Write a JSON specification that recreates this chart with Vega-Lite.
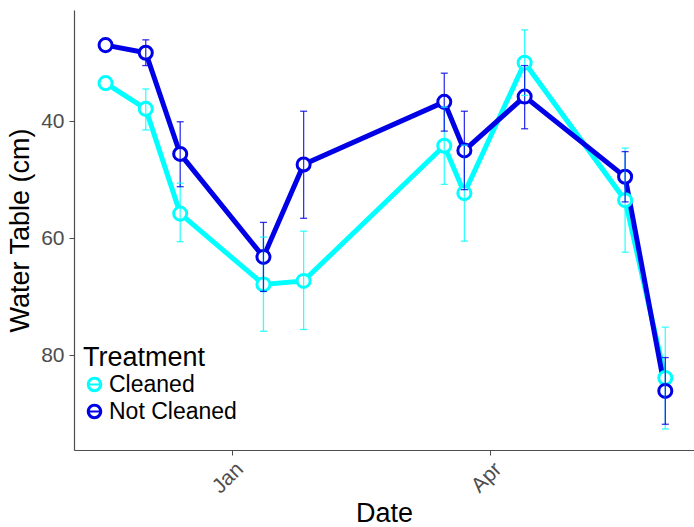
{
  "$schema": "https://vega.github.io/schema/vega-lite/v6.json",
  "width": 620,
  "height": 440,
  "autosize": {"type": "none"},
  "padding": {"left": 74, "top": 10, "right": 0, "bottom": 77},
  "config": {
    "font": "Liberation Sans",
    "view": {"stroke": null},
    "axis": {
      "grid": false,
      "domainColor": "#4d4d4d",
      "domainWidth": 1.2,
      "tickColor": "#4d4d4d",
      "tickSize": 5,
      "labelColor": "#4d4d4d",
      "labelFontSize": 21,
      "titleFontWeight": "normal",
      "titleColor": "black"
    }
  },
  "data": {
    "values": [
      {"date": "2014-11-18", "treatment": "Cleaned", "wt": 33.5, "lo": null, "hi": null},
      {"date": "2014-12-02", "treatment": "Cleaned", "wt": 37.9, "lo": 34.5, "hi": 41.5},
      {"date": "2014-12-14", "treatment": "Cleaned", "wt": 55.8, "lo": 50.6, "hi": 60.6},
      {"date": "2015-01-12", "treatment": "Cleaned", "wt": 67.9, "lo": 59.8, "hi": 75.9},
      {"date": "2015-01-26", "treatment": "Cleaned", "wt": 67.3, "lo": 58.8, "hi": 75.6},
      {"date": "2015-03-16", "treatment": "Cleaned", "wt": 44.2, "lo": 37.6, "hi": 50.8},
      {"date": "2015-03-23", "treatment": "Cleaned", "wt": 52.3, "lo": 44.1, "hi": 60.5},
      {"date": "2015-04-13", "treatment": "Cleaned", "wt": 30.0, "lo": 24.4, "hi": 35.6},
      {"date": "2015-05-18", "treatment": "Cleaned", "wt": 53.5, "lo": 44.6, "hi": 62.4},
      {"date": "2015-06-01", "treatment": "Cleaned", "wt": 83.9, "lo": 75.2, "hi": 92.6},
      {"date": "2014-11-18", "treatment": "Not Cleaned", "wt": 27.0, "lo": null, "hi": null},
      {"date": "2014-12-02", "treatment": "Not Cleaned", "wt": 28.3, "lo": 26.1, "hi": 30.5},
      {"date": "2014-12-14", "treatment": "Not Cleaned", "wt": 45.6, "lo": 40.1, "hi": 51.2},
      {"date": "2015-01-12", "treatment": "Not Cleaned", "wt": 63.2, "lo": 57.3, "hi": 69.1},
      {"date": "2015-01-26", "treatment": "Not Cleaned", "wt": 47.4, "lo": 38.3, "hi": 56.6},
      {"date": "2015-03-16", "treatment": "Not Cleaned", "wt": 36.7, "lo": 31.8, "hi": 41.7},
      {"date": "2015-03-23", "treatment": "Not Cleaned", "wt": 45.0, "lo": 38.3, "hi": 51.7},
      {"date": "2015-04-13", "treatment": "Not Cleaned", "wt": 35.8, "lo": 30.5, "hi": 41.3},
      {"date": "2015-05-18", "treatment": "Not Cleaned", "wt": 49.5, "lo": 45.2, "hi": 53.8},
      {"date": "2015-06-01", "treatment": "Not Cleaned", "wt": 86.1, "lo": 80.4, "hi": 91.8}
    ]
  },
  "encoding": {
    "x": {
      "field": "date",
      "type": "temporal",
      "title": "Date",
      "scale": {
        "type": "utc",
        "domain": [
          {"year": 2014, "month": 11, "date": 7, "utc": true},
          {"year": 2015, "month": 6, "date": 11, "utc": true}
        ]
      },
      "axis": {
        "values": [
          {"year": 2015, "month": 1, "date": 1, "utc": true},
          {"year": 2015, "month": 4, "date": 1, "utc": true}
        ],
        "labelExpr": "utcFormat(datum.value, '%b')",
        "labelAngle": -45,
        "labelAlign": "right",
        "labelBaseline": "top",
        "labelPadding": 3,
        "titleFontSize": 27,
        "titlePadding": 4
      }
    },
    "color": {
      "field": "treatment",
      "type": "nominal",
      "title": "Treatment",
      "scale": {"domain": ["Cleaned", "Not Cleaned"], "range": ["#00FFFF", "#0000E6"]},
      "legend": {
        "orient": "none",
        "legendX": 9,
        "legendY": 335,
        "padding": 0,
        "titleFontSize": 27,
        "titleFontWeight": "normal",
        "titleColor": "black",
        "titlePadding": 1,
        "labelFontSize": 23,
        "labelColor": "black",
        "labelOffset": 3,
        "rowPadding": 3,
        "symbolType": "M-1,0A1,1,0,1,1,1,0A1,1,0,1,1,-1,0ZM-0.6,0A0.6,0.6,0,1,0,0.6,0A0.6,0.6,0,1,0,-0.6,0ZM-0.6,-0.12L0.6,-0.12L0.6,0.12L-0.6,0.12Z",
        "symbolSize": 240,
        "symbolStrokeWidth": 0
      }
    }
  },
  "layer": [
    {
      "mark": {"type": "line", "strokeWidth": 5},
      "encoding": {
        "y": {
          "field": "wt",
          "type": "quantitative",
          "title": "Water Table (cm)",
          "scale": {"domain": [21, 96.2], "reverse": true, "nice": false, "zero": false},
          "axis": {"values": [40, 60, 80], "labelPadding": 5, "titlePadding": 6, "titleFontSize": 27}
        }
      }
    },
    {
      "mark": {"type": "point", "shape": "circle", "size": 170, "strokeWidth": 3, "fill": "white", "opacity": 1},
      "encoding": {
        "y": {"field": "wt", "type": "quantitative"}
      }
    },
    {
      "transform": [{"filter": "datum.lo != null"}],
      "mark": {"type": "rule", "strokeWidth": 1.3, "opacity": 0.8},
      "encoding": {
        "y": {"field": "lo", "type": "quantitative"},
        "y2": {"field": "hi"}
      }
    },
    {
      "transform": [{"filter": "datum.lo != null"}],
      "mark": {"type": "tick", "orient": "horizontal", "size": 7, "thickness": 1.3, "opacity": 0.8},
      "encoding": {
        "y": {"field": "lo", "type": "quantitative"}
      }
    },
    {
      "transform": [{"filter": "datum.lo != null"}],
      "mark": {"type": "tick", "orient": "horizontal", "size": 7, "thickness": 1.3, "opacity": 0.8},
      "encoding": {
        "y": {"field": "hi", "type": "quantitative"}
      }
    }
  ]
}
